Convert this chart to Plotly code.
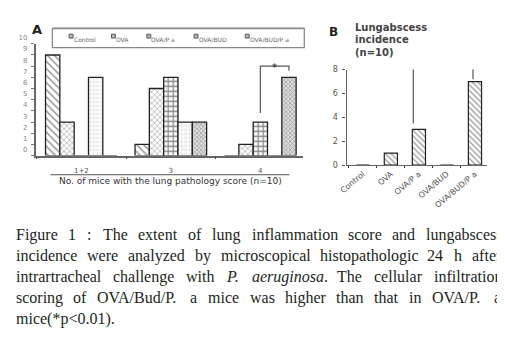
import plotly.graph_objects as go

# ---------------- data ----------------
series_names = ["Control", "OVA", "OVA/P a", "OVA/BUD", "OVA/BUD/P a"]
score_groups = ["1+2", "3", "4"]
control_counts = [9, 1, 0]
ova_counts = [3, 6, 1]
ova_pa_counts = [0, 7, 3]
ova_bud_counts = [7, 3, 0]
ova_bud_pa_counts = [0, 3, 7]
a_yticks = list(range(0, 11))

abscess_groups = ["Control", "OVA", "OVA/P a", "OVA/BUD", "OVA/BUD/P a"]
abscess_counts = [0, 1, 3, 0, 7]
b_yticks = [0, 2, 4, 6, 8]

b_title_lines = ["Lungabscess", "incidence", "(n=10)"]
a_xtitle = "No. of mice with the lung pathology score (n=10)"

caption_lines = [
    "Figure 1 : The extent of lung inflammation score and lungabscess",
    "incidence were analyzed by microscopical histopathologic 24 h after",
    "intrartracheal challenge with <i>P.</i> <i>aeruginosa</i>. The cellular infiltration",
    "scoring of OVA/Bud/P. a mice was higher than that in OVA/P. a",
    "mice(*p<0.01).",
]

# ---------------- helpers ----------------
# The page body has an 8 px margin, so the figure is sized to fill the rest of
# the 505x346 window and page pixels are converted accordingly.
OFF = 8
W, H = 505 - OFF, 346 - OFF
def px(x):
    return (x - OFF) / W
def py(y):
    return 1 - (y - OFF) / H

fig = go.Figure()

patterns = [
    dict(shape="\\", fgcolor="#333", bgcolor="white", size=5, solidity=0.3),
    dict(shape="x", fgcolor="#666", bgcolor="white", size=4, solidity=0.35),
    dict(shape="+", fgcolor="#111", bgcolor="white", size=5, solidity=0.45),
    dict(shape="+", fgcolor="#aaa", bgcolor="white", size=4, solidity=0.25),
    dict(shape="x", fgcolor="#555", bgcolor="#ddd", size=3, solidity=0.4),
]
a_values = [control_counts, ova_counts, ova_pa_counts, ova_bud_counts, ova_bud_pa_counts]
for name, vals, pat in zip(series_names, a_values, patterns):
    fig.add_trace(go.Bar(
        x=score_groups, y=vals, name=name, xaxis="x", yaxis="y",
        marker=dict(color="white", pattern=pat, line=dict(color="#222", width=1.3)),
        showlegend=False,
    ))

fig.add_trace(go.Bar(
    x=abscess_groups, y=abscess_counts, xaxis="x2", yaxis="y2", width=0.47,
    marker=dict(color="white", pattern=dict(shape="\\", fgcolor="#444", bgcolor="white", size=4, solidity=0.35),
                line=dict(color="#222", width=1.2)),
    showlegend=False,
))

axis_col = "#666"
fig.update_layout(
    width=W, height=H, margin=dict(l=0, r=0, t=0, b=0),
    paper_bgcolor="white", plot_bgcolor="white",
    barmode="group", bargap=0.2, bargroupgap=0,
    xaxis=dict(domain=[px(28), px(300)], range=[-0.51, 2.48], anchor="y", showline=True, linecolor=axis_col,
               linewidth=1.5, ticks="outside", tickson="boundaries", ticklen=2, tickcolor="#444",
               showgrid=False, zeroline=False, ticklabelstandoff=7,
               tickfont=dict(family="DejaVu Sans", size=7, color="#555")),
    yaxis=dict(domain=[py(152), py(35)], range=[0, 10], anchor="x", showline=True, linecolor=axis_col,
               linewidth=1.5, ticks="outside", ticklen=3, tickcolor="#777", tickvals=a_yticks,
               showgrid=False, zeroline=False, ticklabelshift=-6, ticklabelstandoff=2,
               tickfont=dict(family="DejaVu Sans", size=7, color="#888")),
    xaxis2=dict(domain=[px(344), px(487)], range=[-0.58, 4.44], anchor="y2", showline=True, linecolor=axis_col,
                linewidth=1.3, ticks="outside", tickson="boundaries", ticklen=2, tickcolor="#333",
                showgrid=False, zeroline=False, tickangle=-40,
                tickfont=dict(family="DejaVu Sans", size=8, color="#555")),
    yaxis2=dict(domain=[py(162), py(62)], range=[0, 8], anchor="x2", showline=True, linecolor=axis_col,
                linewidth=1.3, ticks="outside", ticklen=3, tickcolor="#555", tickvals=b_yticks,
                showgrid=False, zeroline=False, ticklabelstandoff=3,
                tickfont=dict(family="DejaVu Sans", size=8, color="#555")),
)

shapes = []
annotations = []

def paper_text(x, y, text, size, color="#333", family="DejaVu Sans", xa="center", ya="middle"):
    annotations.append(dict(x=px(x), y=py(y), xref="paper", yref="paper", text=text, showarrow=False,
                            xanchor=xa, yanchor=ya, borderpad=0, borderwidth=0,
                            font=dict(family=family, size=size, color=color)))

# significance bracket A (OVA/P a vs OVA/BUD/P a in score group "4")
n = len(series_names)
bw = (1 - 0.2) / n
g = 2
xl = g + (2 - (n - 1) / 2) * bw
xr = g + (4 - (n - 1) / 2) * bw
top_a = max(ova_pa_counts[g], ova_bud_pa_counts[g]) + 1
shapes.append(dict(type="path", xref="x", yref="y",
                   path=f"M {xl},{ova_pa_counts[g] + 0.8} L {xl},{top_a} L {xr},{top_a} L {xr},{ova_bud_pa_counts[g] + 0.6}",
                   line=dict(color="#555", width=1.2)))
annotations.append(dict(x=(xl + xr) / 2, y=top_a, xref="x", yref="y", text="*", showarrow=False,
                        xanchor="center", yanchor="middle",
                        font=dict(family="DejaVu Sans", size=10, color="#222"), yshift=-1))

# significance bracket B
top_b = abscess_counts[4] + 1.2
shapes.append(dict(type="path", xref="x2", yref="y2",
                   path=f"M 1.8,{abscess_counts[2] + 0.5} L 1.8,{top_b} L 3.93,{top_b} L 3.93,{abscess_counts[4] + 0.2}",
                   line=dict(color="#555", width=1.2)))
annotations.append(dict(x=2.8, y=top_b, xref="x2", yref="y2", text="*", showarrow=False,
                        xanchor="center", yanchor="middle",
                        font=dict(family="DejaVu Sans", size=10, color="#222"), yshift=1))

# legend box of panel A
shapes.append(dict(type="rect", xref="paper", yref="paper", x0=px(45), x1=px(301), y0=py(39), y1=py(19),
                   line=dict(color="#888", width=1.3)))
shapes.append(dict(type="line", xref="paper", yref="paper", x0=px(45), x1=px(301), y0=py(18), y1=py(18),
                   line=dict(color="#bbb", width=1)))
legend_x = [64, 107, 143, 191, 243]
for name, lx in zip(series_names, legend_x):
    shapes.append(dict(type="rect", xref="paper", yref="paper", x0=px(lx - 2), x1=px(lx + 2),
                       y0=py(29), y1=py(25), line=dict(color="#555", width=1), fillcolor="#bbb"))
    paper_text(lx + 2.5, 31, name, 6, color="#666", xa="left")

# panel labels
paper_text(29, 20, "<b>A</b>", 13, color="#222")
paper_text(331, 23, "<b>B</b>", 12, color="#222")
for line_text, yl in zip(b_title_lines, [18, 31, 44]):
    paper_text(353, yl, f"<b>{line_text}</b>", 10, color="#444", xa="left")

# x title for panel A
shapes.append(dict(type="line", xref="paper", yref="paper", x0=px(43), x1=px(286), y0=py(172), y1=py(172),
                   line=dict(color="#555", width=1)))
paper_text(165, 179, a_xtitle, 9, color="#333")

# ---------------- caption (justified, word by word) ----------------
TW = {' ': 250, 'a': 444, 'b': 500, 'c': 444, 'd': 500, 'e': 444, 'f': 333, 'g': 500, 'h': 500,
      'i': 278, 'j': 278, 'k': 500, 'l': 278, 'm': 778, 'n': 500, 'o': 500, 'p': 500, 'q': 500,
      'r': 333, 's': 389, 't': 278, 'u': 500, 'v': 500, 'w': 722, 'x': 500, 'y': 500, 'z': 444,
      'A': 722, 'B': 667, 'C': 667, 'D': 722, 'E': 611, 'F': 556, 'G': 722, 'H': 722, 'I': 333,
      'O': 722, 'P': 556, 'T': 611, 'U': 722, 'V': 722, '.': 250, ':': 278, '(': 333, ')': 333,
      '*': 500, '<': 564, '/': 278, ',': 250}
cap_size = 16
def strip_tags(s):
    return s.replace("<i>", "").replace("</i>", "")
def tw(s):
    return sum(TW.get(c, 500) for c in strip_tags(s)) * cap_size / 1000

cap_x0, cap_x1 = 8, 501
cap_y = [235, 257, 279, 301, 323]
for i, (line, yl) in enumerate(zip(caption_lines, cap_y)):
    words = line.split(" ")
    widths = [tw(w) for w in words]
    if i < len(caption_lines) - 1 and len(words) > 1:
        gap = (cap_x1 - cap_x0 - sum(widths)) / (len(words) - 1)
    else:
        gap = TW[' '] * cap_size / 1000
    xcur = cap_x0
    for w, wd in zip(words, widths):
        paper_text(xcur, yl, w.replace("<0", "&lt;0"), cap_size, color="#231f20",
                   family="Liberation Serif", xa="left")
        xcur += wd + gap

fig.update_layout(shapes=shapes, annotations=annotations)
fig.write_html("out.html")
